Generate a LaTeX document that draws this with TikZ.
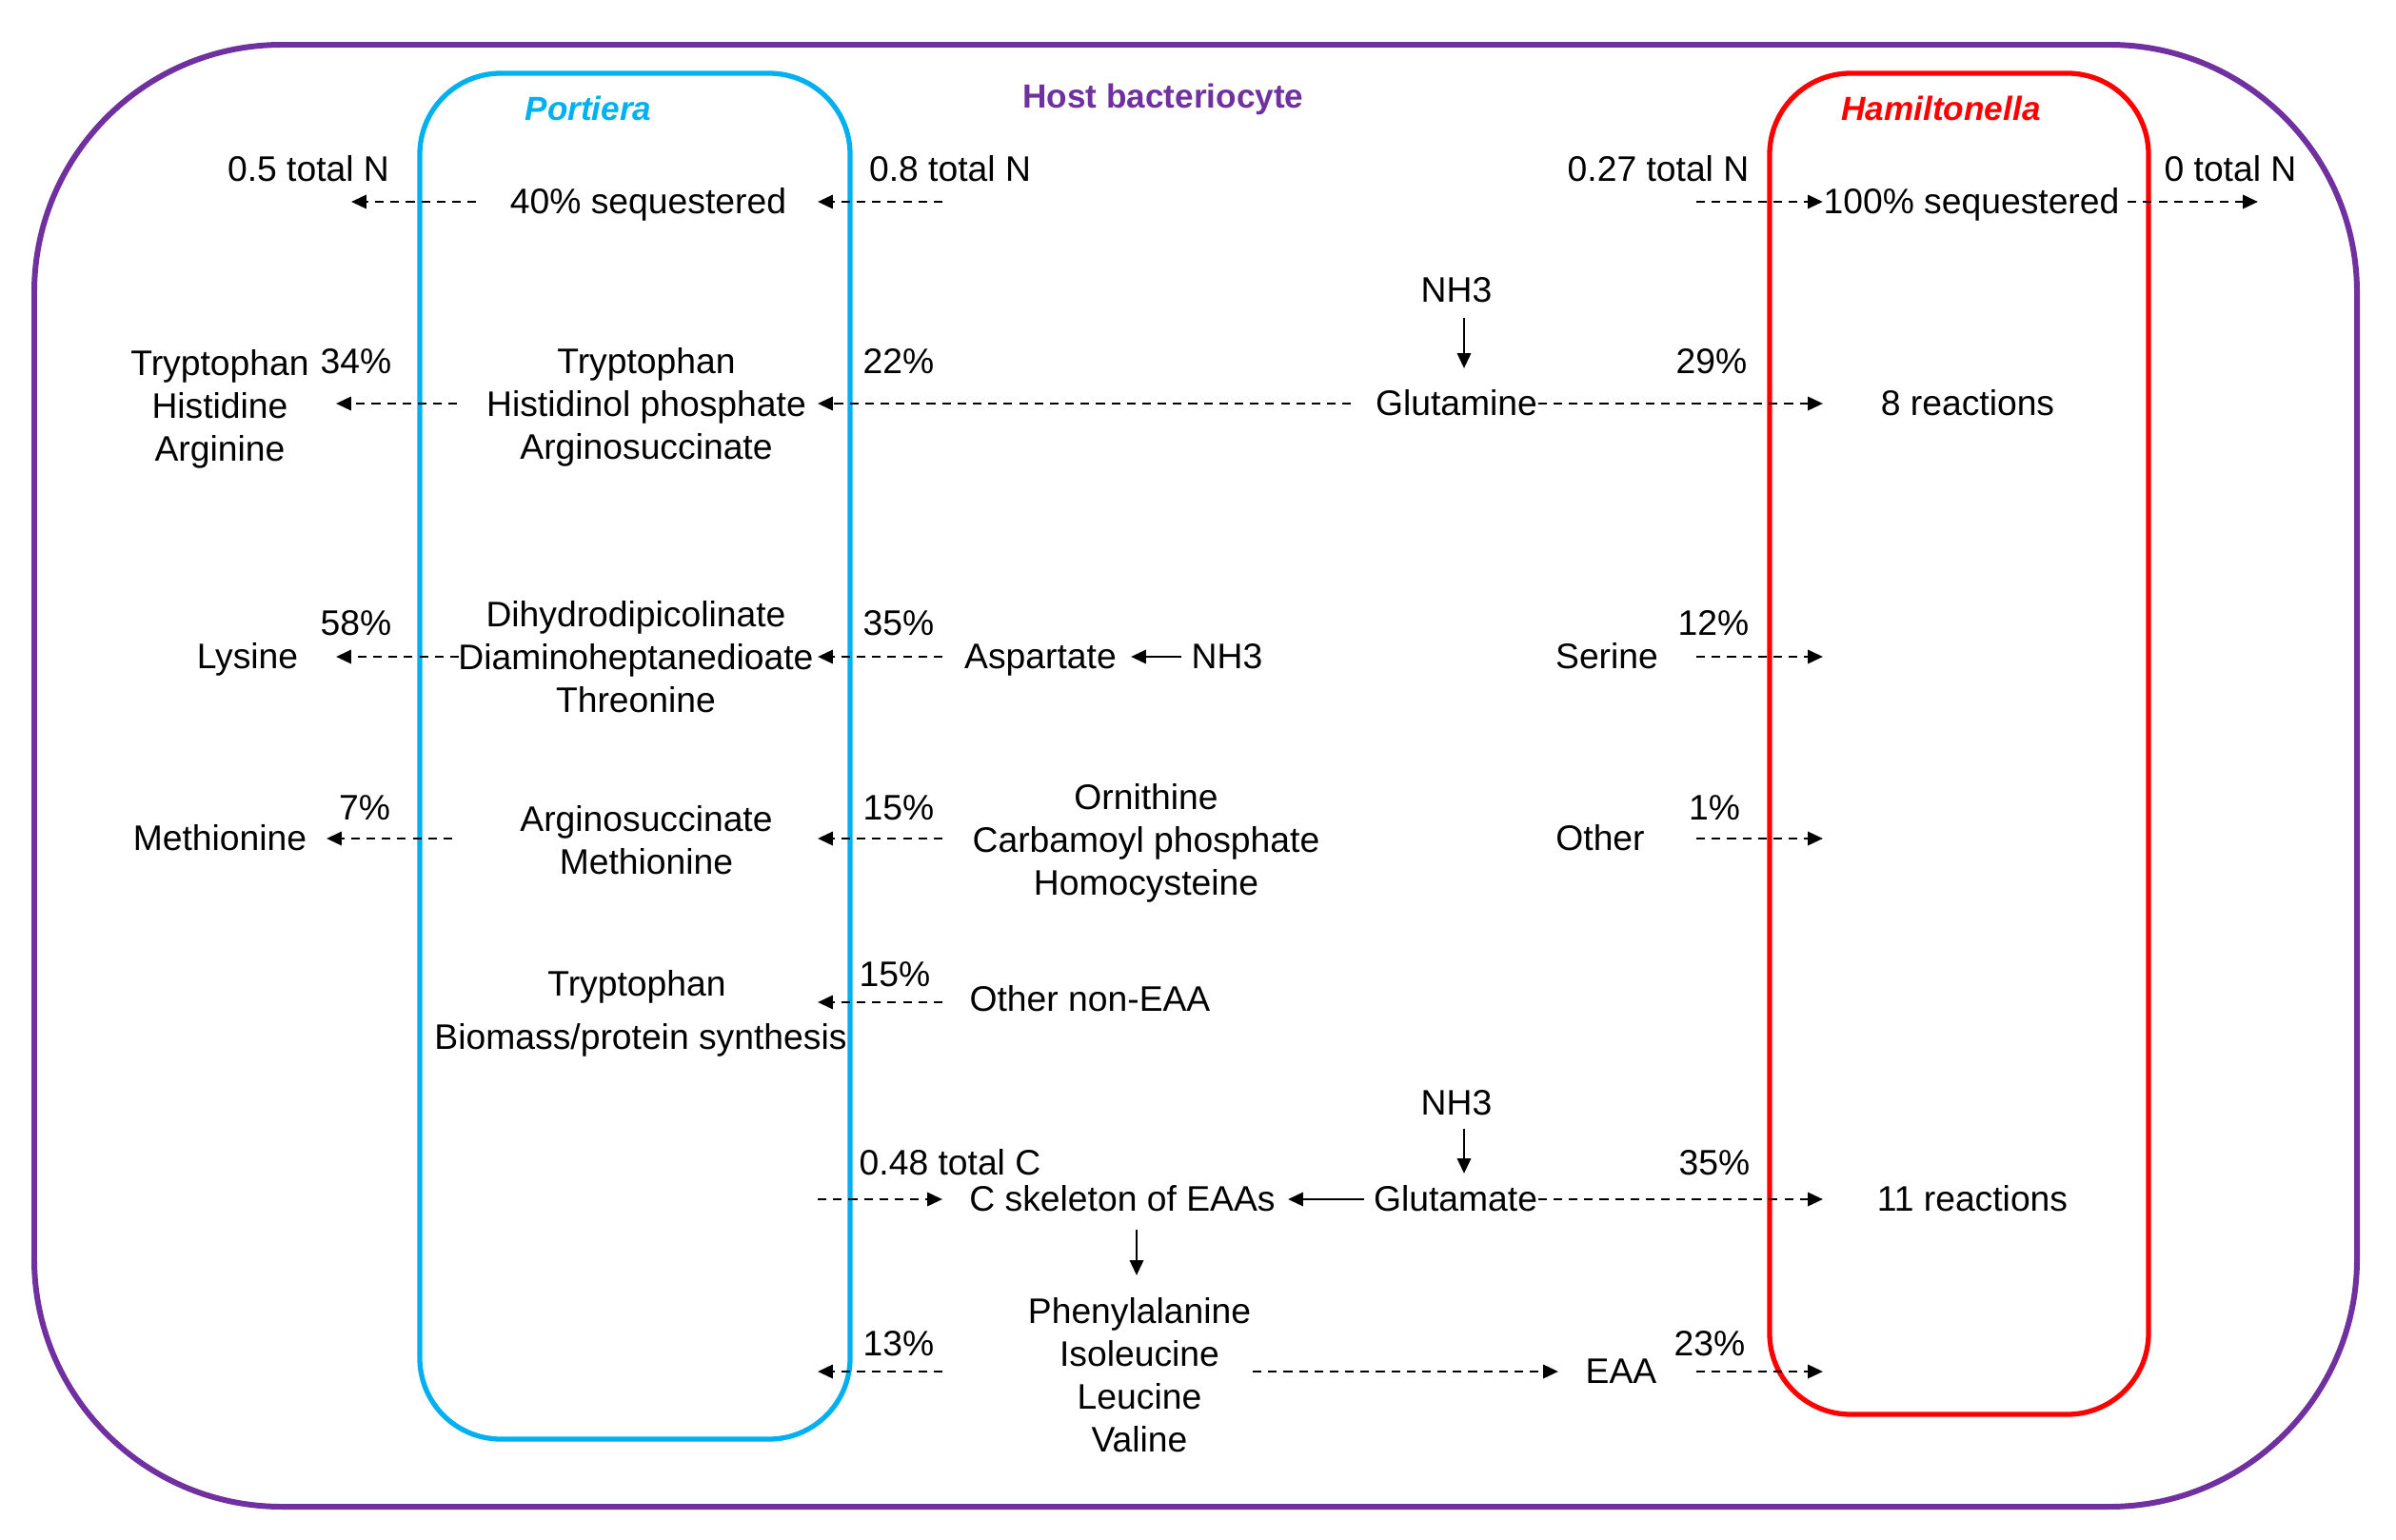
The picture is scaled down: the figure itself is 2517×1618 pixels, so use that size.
\documentclass[tikz,border=0pt]{standalone}
\usepackage{fontspec}
\setmainfont{Liberation Sans}
\usepackage{xcolor}
\usetikzlibrary{positioning,arrows.meta}
\definecolor{hostpurple}{RGB}{112,48,160}
\definecolor{portblue}{RGB}{0,176,240}
\definecolor{hamred}{RGB}{255,0,0}
\tikzset{
flow/.style={-{Triangle[length=4.5pt,width=4pt]}, line width=0.8pt, dash pattern=on 2.6pt off 2pt},
conv/.style={-{Triangle[length=4.5pt,width=4pt]}, line width=0.8pt},
txt/.style={inner sep=0pt, align=center},
one/.style={txt, text height=0.72em, text depth=0pt},
cell/.style={line width=1.5pt, rounded corners=0.85cm}
}

\begin{document}
\begin{tikzpicture}[x=0.01cm, y=-0.01cm, font=\fontsize{10.6}{12.8}\selectfont]
\useasboundingbox (0,0) rectangle (2517,1618);
% host cell and the two symbionts
\draw[hostpurple, line width=1.7pt, rounded corners=2.6cm] (36,47) rectangle (2476,1583);
\draw[cell, portblue] (441,77) rectangle (893,1512);
\draw[cell, hamred] (1859,77) rectangle (2257,1486);
\node[one, text=portblue, font=\bfseries\itshape] (portiera) at (618,114) {Portiera};
\node[one, text=hostpurple, font=\bfseries] (host) at (1222,101) {Host bacteriocyte};
\node[one, text=hamred, font=\bfseries\itshape] (hamilton) at (2039,114) {Hamiltonella};

% total N
\node[one] (totP) at (324,178) {0.5 total N};
\node[one] (seqP) at (681,212) {40\% sequestered};
\node[one] (totIn) at (998,178) {0.8 total N};
\node[one] (tot27) at (1742,178) {0.27 total N};
\node[one] (seqH) at (2071,212) {100\% sequestered};
\node[one] (tot0) at (2343,178) {0 total N};
\coordinate (o05) at (369,212);
\coordinate (i08) at (990,212);
\coordinate (i27) at (1782,212);
\coordinate (o0) at (2372,212);
\draw[flow, shorten <=0.35cm] (seqP.west) -- (o05);
\draw[flow] (i08) -- (seqP.east -| 859,0);
\draw[flow] (i27) -- (seqH.west);
\draw[flow, shorten <=0.08cm] (seqH.east) -- (o0);

% glutamine
\node[one] (nhA) at (1530,305) {NH3};
\node[one] (glm) at (1530,424) {Glutamine};
\node[txt] (trp) at (679,428) {Tryptophan\\Histidinol phosphate\\Arginosuccinate};
\node[txt] (aaP) at (231,430) {Tryptophan\\Histidine\\Arginine};
\node[one] (p34) at (374,380) {34\%};
\node[one] (p22) at (944,380) {22\%};
\node[one] (p29) at (1798,380) {29\%};
\node[one] (r8) at (2067,424) {8 reactions};
\coordinate (o34) at (353,424);
\coordinate (g22) at (859,424);
\coordinate (g29) at (1915,424);
\draw[conv] (1538,334) -- (1538,387);
\draw[flow] (trp.west |- o34) ++(-30,0) -- (o34);
\draw[flow] (glm.west |- g22) ++(-25,0) -- (g22);
\draw[flow] (glm.east |- g29) -- (g29);

% aspartate
\node[one] (lys) at (260,690) {Lysine};
\node[one] (p58) at (374,655) {58\%};
\node[txt] (dap) at (668,690) {Dihydrodipicolinate\\Diaminoheptanedioate\\Threonine};
\node[one] (p35) at (944,655) {35\%};
\node[one] (asp) at (1093,690) {Aspartate};
\node[one] (nhB) at (1289,690) {NH3};
\node[one] (ser) at (1688,690) {Serine};
\node[one] (p12) at (1800,655) {12\%};
\coordinate (o58) at (353,690);
\coordinate (a35) at (859,690);
\coordinate (s12) at (1915,690);
\draw[flow] (482,690) -- (o58);
\draw[flow] (990,690) -- (a35);
\draw[conv] (1241,690) -- (1188,690);
\draw[flow] (1782,690) -- (s12);

% methionine
\node[one] (met) at (231,881) {Methionine};
\node[one] (p7) at (383,849) {7\%};
\node[txt] (arg) at (679,883) {Arginosuccinate\\Methionine};
\node[one] (p15a) at (944,849) {15\%};
\node[txt] (orn) at (1204,886) {Ornithine\\Carbamoyl phosphate\\Homocysteine};
\node[one] (oth) at (1681,881) {Other};
\node[one] (p1) at (1801,849) {1\%};
\coordinate (o7) at (343,881);
\coordinate (m15) at (859,881);
\coordinate (h1) at (1915,881);
\draw[flow] (475,881) -- (o7);
\draw[flow] (990,881) -- (m15);
\draw[flow] (1782,881) -- (h1);

% other non-EAA
\node[one] (trpB) at (669,1034) {Tryptophan};
\node[one] (bio) at (673,1090) {Biomass/protein synthesis};
\node[one] (p15b) at (940,1024) {15\%};
\node[one] (nea) at (1145,1050) {Other non-EAA};
\coordinate (n15) at (859,1053);
\draw[flow] (990,1053) -- (n15);

% glutamate and EAAs
\node[one] (nhC) at (1530,1159) {NH3};
\node[one] (glu) at (1529,1260) {Glutamate};
\node[one] (totC) at (998,1222) {0.48 total C};
\node[one] (csk) at (1179,1260) {C skeleton of EAAs};
\node[one] (p35b) at (1801,1222) {35\%};
\node[one] (r11) at (2072,1260) {11 reactions};
\node[txt] (eaa) at (1197,1445) {Phenylalanine\\Isoleucine\\Leucine\\Valine};
\node[one] (p13) at (944,1412) {13\%};
\node[one] (eaaH) at (1703,1441) {EAA};
\node[one] (p23) at (1796,1412) {23\%};
\coordinate (c48) at (990,1260);
\coordinate (g35) at (1915,1260);
\coordinate (e13) at (859,1441);
\coordinate (e23) at (1915,1441);
\draw[conv] (1538,1186) -- (1538,1233);
\draw[flow] (859,1260) -- (c48);
\draw[conv, shorten <=0.09cm] (glu.west) -- (csk.east -| 1353,0);
\draw[flow] (glu.east) -- (g35);
\draw[conv] (1194,1292) -- (1194,1340);
\draw[flow] (990,1441) -- (e13);
\draw[flow] (1316,1441) -- (1637,1441);
\draw[flow] (1782,1441) -- (e23);
\end{tikzpicture}
\end{document}
